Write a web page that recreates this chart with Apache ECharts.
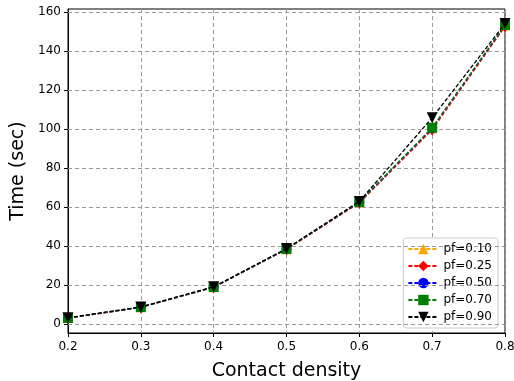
<!DOCTYPE html>
<html><head><meta charset="utf-8">
<script src="https://cdn.jsdelivr.net/npm/echarts@6/dist/echarts.min.js"></script>
<style>html,body{margin:0;padding:0;background:#fff}#c{width:514px;height:381px}</style>
</head><body><div id="c"></div>
<script>
const xValues = [0.2, 0.3, 0.4, 0.5, 0.6, 0.7, 0.8];
const pf010 = [3.0, 8.5, 18.8, 38.3, 62.3, 100.3, 153.0];
const pf025 = [2.9, 8.4, 18.7, 38.2, 62.0, 99.5, 152.5];
const pf050 = [3.0, 8.5, 18.8, 38.3, 62.4, 100.4, 153.2];
const pf070 = [3.0, 8.6, 18.9, 38.4, 62.5, 100.6, 153.3];
const pf090 = [3.1, 8.7, 19.0, 38.6, 62.8, 105.7, 154.0];
const yTicks = [0, 20, 40, 60, 80, 100, 120, 140, 160];
const xTicks = [0.2, 0.3, 0.4, 0.5, 0.6, 0.7, 0.8];
const seriesNames = ['pf=0.10', 'pf=0.25', 'pf=0.50', 'pf=0.70', 'pf=0.90'];

const colors = ['#ffa500', '#ff0000', '#0000ff', '#008000', '#000000'];
const symbols = ['triangle', 'diamond', 'circle', 'rect', 'path://M0,0 L10,0 L5,9 Z'];
const sizes = [10, [8, 12], 10, 10, 11];
const allData = [pf010, pf025, pf050, pf070, pf090];

const chart = echarts.init(document.getElementById('c'), null, {renderer: 'canvas'});
const font = 'DejaVu Sans';
chart.setOption({
  animation: false,
  textStyle: {fontFamily: font},
  grid: {left: 68, right: 9, top: 9, bottom: 48, show: true, borderColor: '#000', borderWidth: 1,
         backgroundColor: 'transparent', containLabel: false, outerBoundsMode: 'none'},
  xAxis: {
    type: 'value', min: 0.2, max: 0.8, interval: 0.1,
    name: 'Contact density', nameLocation: 'middle', nameGap: 29,
    nameTextStyle: {fontSize: 19, color: '#000', fontFamily: font},
    axisLine: {show: true, onZero: false, lineStyle: {color: '#000', width: 1}},
    axisTick: {show: true, length: 4, lineStyle: {color: '#000'}, customValues: xTicks},
    axisLabel: {color: '#000', fontSize: 12, margin: 8, customValues: xTicks, formatter: v => v.toFixed(1)},
    splitLine: {show: true, lineStyle: {color: '#999', type: [4, 3], width: 1}}
  },
  yAxis: {
    type: 'value', min: -4.7, max: 161.5,
    name: 'Time (sec)', nameLocation: 'middle', nameGap: 38,
    nameTextStyle: {fontSize: 19, color: '#000', fontFamily: font},
    axisLine: {show: true, onZero: false, lineStyle: {color: '#000', width: 1}},
    axisTick: {show: true, length: 4, lineStyle: {color: '#000'}, customValues: yTicks},
    axisLabel: {color: '#000', fontSize: 12, margin: 7, customValues: yTicks},
    splitLine: {show: false}
  },
  legend: {
    orient: 'vertical', right: 16, bottom: 53,
    itemWidth: 30, itemHeight: 13, itemGap: 5,
    backgroundColor: '#fff', borderColor: '#ccc', borderWidth: 1, borderRadius: 3,
    padding: [5, 6, 5, 4],
    textStyle: {fontSize: 12, color: '#000', fontFamily: font},
    data: seriesNames
  },
  series: seriesNames.map((n, i) => ({
    name: n, type: 'line',
    data: xValues.map((x, j) => [x, allData[i][j]]),
    symbol: symbols[i], symbolSize: sizes[i],
    showSymbol: true,
    lineStyle: {color: colors[i], type: [4, 2], width: 1.3},
    itemStyle: {color: colors[i]},
    z: 2 + i
  })).concat([{
    type: 'line', data: [], silent: true,
    markLine: {
      silent: true, symbol: 'none', label: {show: false},
      lineStyle: {color: '#999', type: [4, 3], width: 1},
      data: yTicks.map(v => ({yAxis: v}))
    }
  }])
});
</script></body></html>
